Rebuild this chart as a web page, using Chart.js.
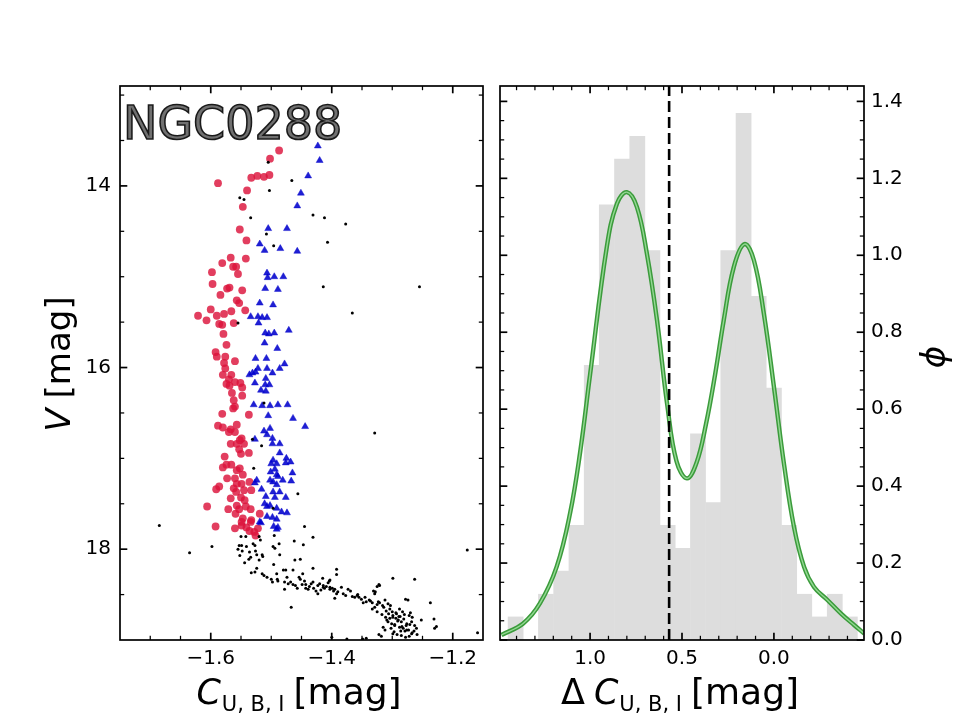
<!DOCTYPE html>
<html><head><meta charset="utf-8">
<script src="https://cdn.jsdelivr.net/npm/chart.js@4.4.1/dist/chart.umd.min.js"></script>
<style>
html,body{margin:0;padding:0;background:#fff;}
#wrap{position:relative;width:960px;height:720px;overflow:hidden;}
#c1{position:absolute;left:0;top:0;}
#c2{position:absolute;left:492px;top:0;}
</style></head><body>
<div id="wrap"><canvas id="c1" width="492" height="720"></canvas><canvas id="c2" width="468" height="720"></canvas></div>
<script>
// ---------------- DATA ----------------
const clusterName = "NGC0288";

// Left panel: C_UBI (x) vs V (y)
const redX = [-1.487,-1.502,-1.533,-1.523,-1.512,-1.503,-1.588,-1.540,-1.547,-1.552,-1.541,-1.567,-1.542,-1.581,-1.563,-1.558,-1.555,-1.598,-1.597,-1.573,-1.569,-1.548,
 -1.584,-1.557,-1.553,-1.600,-1.621,-1.607,-1.590,-1.578,-1.566,-1.543,-1.586,-1.581,-1.562,-1.579,-1.574,-1.592,-1.590,-1.576,-1.578,-1.560,-1.576,-1.580,-1.566,-1.570,-1.574,-1.569,-1.560,-1.551,-1.548,-1.565,-1.548,-1.562,-1.563,-1.560,-1.581,-1.537,
 -1.588,-1.580,-1.567,-1.560,-1.570,-1.557,-1.552,-1.549,-1.567,-1.557,-1.545,-1.553,-1.550,-1.537,-1.577,-1.580,-1.574,-1.566,-1.557,-1.552,-1.573,-1.560,-1.547,-1.557,-1.549,-1.536,-1.586,-1.591,-1.562,-1.558,-1.545,-1.533,-1.567,-1.550,-1.544,-1.606,-1.571,-1.557,-1.553,-1.542,-1.534,-1.559,-1.547,-1.533,-1.519,-1.592,-1.560,-1.549,-1.536,-1.522,-1.526,-1.549,-1.541,-1.534,-1.528];
const redY = [13.61,13.70,13.91,13.89,13.90,13.88,13.97,14.05,14.23,14.48,14.60,14.79,14.80,14.85,14.89,14.89,14.97,14.95,15.08,15.13,15.12,15.15,
 15.20,15.26,15.29,15.36,15.43,15.48,15.43,15.41,15.38,15.37,15.52,15.53,15.51,15.63,15.75,15.83,15.88,15.88,15.95,15.93,16.01,16.08,16.08,16.13,16.18,16.20,16.16,16.17,16.22,16.28,16.31,16.36,16.45,16.43,16.51,16.52,
 16.64,16.66,16.68,16.71,16.71,16.63,16.80,16.78,16.84,16.84,16.84,16.90,16.95,16.94,16.98,17.10,17.07,17.07,17.13,17.11,17.22,17.22,17.18,17.28,17.28,17.26,17.31,17.34,17.33,17.37,17.35,17.35,17.44,17.43,17.46,17.53,17.56,17.52,17.56,17.53,17.56,17.61,17.66,17.68,17.61,17.75,17.77,17.74,17.80,17.77,17.85,17.70,17.76,17.70,17.81];

const blueX = [-1.423,-1.420,-1.439,-1.451,-1.457,-1.505,-1.474,-1.519,-1.511,-1.485,-1.457,-1.507,-1.506,-1.495,-1.480,-1.510,-1.489,
 -1.519,-1.497,-1.534,-1.522,-1.515,-1.507,-1.521,-1.471,-1.510,-1.504,-1.495,-1.511,-1.490,-1.526,-1.508,-1.522,-1.507,-1.486,-1.478,-1.536,-1.531,-1.526,-1.498,-1.527,-1.509,-1.510,-1.503,-1.517,-1.509,-1.529,-1.515,-1.502,-1.489,-1.473,-1.505,-1.464,
 -1.444,-1.512,-1.502,-1.527,-1.507,-1.498,-1.498,-1.486,-1.486,-1.475,-1.468,-1.497,-1.500,-1.491,-1.476,-1.501,-1.494,-1.465,-1.491,-1.489,-1.524,-1.527,-1.502,-1.497,-1.481,-1.467,-1.491,-1.516,-1.497,-1.486,-1.509,-1.494,-1.476,-1.511,-1.502,-1.507,-1.491,-1.483,-1.474,-1.507,-1.498,-1.517,-1.491,-1.496,-1.489,-1.491,-1.519];
const blueY = [13.56,13.72,13.89,14.08,14.22,14.47,14.47,14.64,14.71,14.69,14.72,14.96,15.01,15.00,15.00,15.13,15.14,
 15.29,15.31,15.44,15.44,15.45,15.45,15.51,15.59,15.62,15.63,15.62,15.73,15.79,15.90,15.90,16.01,16.01,16.01,15.96,16.08,16.06,16.05,16.06,16.17,16.12,16.19,16.19,16.25,16.26,16.41,16.42,16.42,16.41,16.41,16.53,16.56,
 16.65,16.70,16.67,16.79,16.74,16.78,16.84,16.84,16.94,17.00,17.04,17.02,17.06,17.06,17.05,17.15,17.12,17.16,17.18,17.20,17.24,17.27,17.24,17.26,17.24,17.25,17.29,17.34,17.37,17.37,17.42,17.43,17.43,17.50,17.52,17.53,17.55,17.59,17.60,17.64,17.65,17.71,17.67,17.75,17.76,17.78,17.70];

const otherX = [-1.505,-1.466,-1.503,-1.552,-1.545,-1.534,-1.431,-1.412,-1.508,-1.496,-1.407,-1.414,-1.377,-1.255,-1.366,-1.329,-1.685,-1.635,-1.598,-1.176,-1.159,-1.555,-1.512,-1.531,-1.516,-1.529,-1.456,-1.497,-1.445,-1.550,-1.542,-1.520,-1.495,-1.431,
 -1.518,-1.553,-1.549,-1.541,-1.555,-1.548,-1.530,-1.527,-1.552,-1.536,-1.526,-1.524,-1.534,-1.537,-1.544,-1.515,-1.514,-1.520,-1.497,-1.494,-1.487,-1.486,-1.462,-1.447,-1.496,-1.533,-1.527,-1.524,-1.515,-1.512,-1.507,-1.500,-1.498,-1.491,-1.490,-1.489,-1.480,-1.476,-1.474,-1.478,-1.472,-1.461,-1.452,-1.464,-1.468,-1.464,-1.478,-1.460,-1.457,-1.454,-1.452,-1.448,-1.445,-1.443,-1.443,-1.439,-1.434,-1.431,-1.431,-1.430,-1.426,-1.423,-1.420,-1.415,-1.423,-1.414,-1.412,-1.409,-1.404,-1.403,-1.399,-1.395,-1.395,-1.392,-1.392,-1.467,
 -1.403,-1.414,-1.403,-1.397,-1.392,-1.390,-1.381,-1.377,-1.373,-1.369,-1.366,-1.362,-1.358,-1.355,-1.351,-1.345,-1.348,-1.343,-1.336,-1.333,-1.331,-1.329,-1.325,-1.322,-1.299,-1.263,-1.333,-1.329,-1.325,-1.321,-1.316,-1.314,-1.325,-1.323,-1.312,-1.307,-1.303,-1.310,-1.304,-1.300,-1.311,-1.304,-1.299,-1.294,-1.307,-1.301,-1.299,-1.293,-1.289,-1.288,-1.283,-1.290,-1.285,-1.281,-1.278,-1.274,-1.288,-1.282,-1.277,-1.276,-1.271,-1.268,-1.272,-1.267,-1.263,-1.260,-1.297,-1.292,-1.285,-1.278,-1.272,-1.267,-1.259,-1.252,-1.237,-1.231,-1.227,-1.230,-1.315,-1.312,-1.322,-1.318,-1.400,-1.375,-1.349,-1.343,-1.321,-1.328,-1.268,-1.276,-1.299,
 -1.296,-1.286,-1.280,-1.294,-1.302,-1.284,-1.273,-1.306,-1.291,-1.279,-1.264,-1.309,-1.296,-1.287,-1.270,-1.317,-1.338,-1.357,-1.384,-1.406,-1.418,-1.437,-1.449];
const otherY = [13.74,13.94,14.05,14.13,14.15,14.35,14.32,14.35,14.53,14.66,14.62,15.11,14.42,15.11,15.40,16.72,17.74,18.04,17.97,18.01,18.92,15.51,16.39,16.79,16.86,17.11,17.39,17.55,17.75,17.86,17.86,17.86,17.85,17.87,
 17.90,17.96,17.96,17.97,18.00,18.02,17.94,17.96,18.07,18.03,18.02,18.06,18.09,18.11,18.15,18.06,18.08,18.12,17.97,17.99,17.94,18.06,17.91,17.95,18.17,18.26,18.25,18.21,18.27,18.29,18.31,18.33,18.36,18.27,18.33,18.35,18.23,18.23,18.31,18.36,18.38,18.12,18.11,18.23,18.36,18.39,18.44,18.40,18.43,18.31,18.33,18.27,18.35,18.39,18.43,18.44,18.38,18.36,18.21,18.43,18.46,18.40,18.38,18.32,18.49,18.40,18.43,18.41,18.35,18.42,18.43,18.44,18.54,18.22,18.28,18.64,
 18.34,18.42,18.44,18.46,18.49,18.47,18.49,18.51,18.44,18.46,18.52,18.53,18.51,18.53,18.55,18.53,18.59,18.58,18.57,18.59,18.46,18.49,18.41,18.39,18.32,18.33,18.66,18.64,18.69,18.59,18.62,18.64,18.61,18.58,18.56,18.60,18.62,18.68,18.66,18.69,18.75,18.76,18.75,18.76,18.80,18.82,18.73,18.71,18.74,18.66,18.69,18.78,18.80,18.77,18.55,18.56,18.86,18.87,18.84,18.82,18.83,18.80,18.73,18.75,18.84,18.87,18.91,18.94,18.95,18.97,18.96,18.92,18.94,18.78,18.59,18.77,18.85,18.87,18.86,18.89,18.94,18.96,18.97,18.99,18.99,18.98,18.40,18.47,18.93,18.89,18.93,
 18.84,18.90,18.72,18.70,18.87,18.85,18.89,18.71,18.79,18.90,18.90,18.78,18.83,18.74,18.70,18.72,18.56,18.50,18.42,18.37,18.45,18.41,18.39];

// Left panel axes
const xTicksL = [-1.6, -1.4, -1.2];
const xMinorL = [-1.70, -1.65, -1.55, -1.50, -1.45, -1.35, -1.30, -1.25];
const yTicksL = [14, 16, 18];
const yMinorL = [13.0, 13.5, 14.5, 15.0, 15.5, 16.5, 17.0, 17.5, 18.5];

// Right panel: histogram of Delta C_UBI (bin centres and density)
const binCenters = [1.405,1.322,1.240,1.157,1.074,0.991,0.909,0.826,0.743,0.661,0.578,0.496,0.413,0.330,0.248,0.165,0.083,0.000,-0.083,-0.165,-0.248,-0.331,-0.413];
const binDensity = [0.060,0.000,0.119,0.179,0.298,0.714,1.131,1.250,1.309,1.012,0.298,0.238,0.536,0.357,1.012,1.369,0.893,0.655,0.298,0.119,0.060,0.119,0.060];

// Kernel density curve
const kdeX = [1.482,1.364,1.273,1.182,1.109,1.055,1.000,0.909,0.854,0.800,0.745,0.691,0.636,0.580,0.530,0.473,0.420,0.370,0.320,0.273,0.218,0.160,0.109,0.055,0.000,-0.054,-0.109,-0.164,-0.218,-0.291,-0.364,-0.436,-0.491];
const kdeY = [0.013,0.043,0.095,0.190,0.329,0.485,0.690,1.022,1.134,1.164,1.125,1.004,0.831,0.610,0.465,0.420,0.462,0.560,0.690,0.831,0.970,1.029,0.987,0.849,0.658,0.460,0.294,0.190,0.138,0.104,0.069,0.039,0.017];

const splitValue = 0.57;

const xTicksR = [1.0, 0.5, 0.0];
const xMinorR = [1.4,1.3,1.2,1.1,0.9,0.8,0.7,0.6,0.4,0.3,0.2,0.1,-0.1,-0.2,-0.3,-0.4];
const yTicksR = [0.0,0.2,0.4,0.6,0.8,1.0,1.2,1.4];
const yMinorR = [0.05,0.10,0.15,0.25,0.30,0.35,0.45,0.50,0.55,0.65,0.70,0.75,0.85,0.90,0.95,1.05,1.10,1.15,1.25,1.30,1.35];

// ---------------- RENDERING ----------------
const FONT = '"DejaVu Sans", "Liberation Sans", sans-serif';
const minus = v => (v < 0 ? '\u2212' : '') + Math.abs(v).toFixed(1);

function setTicks(list){ return s => { s.ticks = list.map(v => ({value: v})); }; }

function decor(xs, ys, xMaj, xMin, yMaj, yMin){
  return {
    id: 'decor',
    afterDatasetsDraw(chart){
      const {ctx, chartArea: a} = chart;
      const sx = chart.scales[xs], sy = chart.scales[ys];
      ctx.save();
      ctx.strokeStyle = '#000';
      const seg = (x1,y1,x2,y2) => { ctx.beginPath(); ctx.moveTo(x1,y1); ctx.lineTo(x2,y2); ctx.stroke(); };
      ctx.lineWidth = 1.7;
      xMaj.forEach(v => { const p = sx.getPixelForValue(v); seg(p,a.bottom,p,a.bottom-7.3); seg(p,a.top,p,a.top+7.3); });
      yMaj.forEach(v => { const p = sy.getPixelForValue(v); seg(a.left,p,a.left+7.3,p); seg(a.right,p,a.right-7.3,p); });
      ctx.lineWidth = 1.25;
      xMin.forEach(v => { const p = sx.getPixelForValue(v); seg(p,a.bottom,p,a.bottom-4.2); seg(p,a.top,p,a.top+4.2); });
      yMin.forEach(v => { const p = sy.getPixelForValue(v); seg(a.left,p,a.left+4.2,p); seg(a.right,p,a.right-4.2,p); });
      ctx.lineWidth = 1.7;
      ctx.strokeRect(a.left, a.top, a.right - a.left, a.bottom - a.top);
      ctx.restore();
    }
  };
}

function drawRuns(ctx, runs, x, y, rotate){
  ctx.save();
  ctx.translate(x, y);
  if (rotate) ctx.rotate(-Math.PI/2);
  ctx.textBaseline = 'alphabetic';
  ctx.textAlign = 'left';
  ctx.fillStyle = '#000';
  let total = 0;
  runs.forEach(r => { ctx.font = (r.style||'') + ' ' + r.size + 'px ' + FONT; r.w = ctx.measureText(r.t).width; total += r.w + (r.gap||0); });
  let cx = -total/2;
  runs.forEach(r => { ctx.font = (r.style||'') + ' ' + r.size + 'px ' + FONT; ctx.fillText(r.t, cx, r.dy||0); cx += r.w + (r.gap||0); });
  ctx.restore();
}

const titleL = {
  id: 'titlesL',
  afterDraw(chart){
    const ctx = chart.ctx, a = chart.chartArea;
    ctx.save();
    ctx.font = '46px ' + FONT;
    ctx.textBaseline = 'alphabetic';
    ctx.fillStyle = '#707070';
    ctx.strokeStyle = '#1a1a1a';
    ctx.lineWidth = 1.6;
    ctx.fillText(clusterName, a.left + 3, a.top + 53);
    ctx.strokeText(clusterName, a.left + 3, a.top + 53);
    ctx.restore();
    drawRuns(ctx, [{t:'C', size:35, style:'italic', gap:1},{t:'U, B, I', size:21, dy:7, gap:9},{t:'[mag]', size:36}], 299, 704, false);
    drawRuns(ctx, [{t:'V', size:34, style:'italic', gap:10},{t:'[mag]', size:34}], 70, 364, true);
  }
};

const titleR = {
  id: 'titlesR',
  afterDraw(chart){
    const ctx = chart.ctx;
    drawRuns(ctx, [{t:'\u0394', size:35, gap:9},{t:'C', size:35, style:'italic', gap:1},{t:'U, B, I', size:21, dy:7, gap:9},{t:'[mag]', size:36}], 188, 704, false);
    drawRuns(ctx, [{t:'\u03D5', size:34, style:'italic'}], 453, 357, true);
  }
};

const tickFont = {family: FONT, size: 20};

new Chart(document.getElementById('c1'), {
  type: 'scatter',
  data: { datasets: [
    { label: 'other', data: otherX.map((x,i) => ({x, y: otherY[i]})), pointRadius: 1.5, backgroundColor: '#000', borderWidth: 0, pointStyle: 'circle' },
    { label: 'blue', data: blueX.map((x,i) => ({x, y: blueY[i]})), pointRadius: 4, pointStyle: 'triangle', backgroundColor: 'rgba(0,0,205,0.88)', borderColor: 'rgba(0,0,205,0.88)', borderWidth: 0.5 },
    { label: 'red', data: redX.map((x,i) => ({x, y: redY[i]})), pointRadius: 3.9, pointStyle: 'circle', backgroundColor: 'rgba(220,20,60,0.82)', borderWidth: 0 }
  ]},
  options: {
    responsive: false, animation: false, events: [],
    layout: { padding: { top: 86, right: 9, left: 0, bottom: 0 } },
    plugins: { legend: { display: false }, tooltip: { enabled: false } },
    scales: {
      x: { type: 'linear', min: -1.75, max: -1.15,
        grid: { display: false, drawTicks: false }, border: { display: false },
        afterBuildTicks: setTicks(xTicksL),
        ticks: { callback: v => minus(v), font: tickFont, color: '#000', padding: 7, maxRotation: 0, autoSkip: false },
        afterFit: s => { s.height = 80; } },
      y: { type: 'linear', reverse: true, min: 12.9, max: 19.0,
        grid: { display: false, drawTicks: false }, border: { display: false },
        afterBuildTicks: setTicks(yTicksL),
        ticks: { callback: v => String(v), font: tickFont, color: '#000', padding: 9, autoSkip: false },
        afterFit: s => { s.width = 120; } }
    }
  },
  plugins: [decor('x','y', xTicksL, xMinorL, yTicksL, yMinorL), titleL]
});

new Chart(document.getElementById('c2'), {
  type: 'bar',
  data: { datasets: [
    { type: 'line', label: 'split', data: [{x: splitValue, y: 0}, {x: splitValue, y: 1.44}], borderColor: '#000', borderWidth: 2.6, borderDash: [11, 5], pointRadius: 0, yAxisID: 'y' },
    { type: 'line', label: 'kde-inner', data: kdeX.map((x,i) => ({x, y: kdeY[i]})), borderColor: '#93d893', borderWidth: 1.4, pointRadius: 0, tension: 0.4, yAxisID: 'y' },
    { type: 'line', label: 'kde', data: kdeX.map((x,i) => ({x, y: kdeY[i]})), borderColor: '#3b9b3b', borderWidth: 4.4, pointRadius: 0, tension: 0.4, yAxisID: 'y' },
    { type: 'bar', label: 'hist', data: binCenters.map((x,i) => ({x, y: binDensity[i]})), backgroundColor: '#dddddd', borderWidth: 0, barPercentage: 1, categoryPercentage: 1, yAxisID: 'y' }
  ]},
  options: {
    responsive: false, animation: false, events: [],
    layout: { padding: { top: 86, right: 0, left: 0, bottom: 0 } },
    plugins: { legend: { display: false }, tooltip: { enabled: false } },
    scales: {
      x: { type: 'linear', reverse: true, min: -0.49, max: 1.49, offset: false,
        grid: { display: false, drawTicks: false }, border: { display: false },
        afterBuildTicks: setTicks(xTicksR),
        ticks: { callback: v => minus(v), font: tickFont, color: '#000', padding: 7, maxRotation: 0, autoSkip: false },
        afterFit: s => { s.height = 80; } },
      y: { type: 'linear', position: 'left', min: 0, max: 1.44,
        grid: { display: false, drawTicks: false }, border: { display: false },
        ticks: { display: false },
        afterFit: s => { s.width = 8; } },
      y1: { type: 'linear', position: 'right', min: 0, max: 1.44,
        grid: { display: false, drawTicks: false }, border: { display: false },
        afterBuildTicks: setTicks(yTicksR),
        ticks: { callback: v => v.toFixed(1), font: tickFont, color: '#000', padding: 7, autoSkip: false },
        afterFit: s => { s.width = 96; } }
    }
  },
  plugins: [decor('x','y', xTicksR, xMinorR, yTicksR, yMinorR), titleR]
});
</script>
</body></html>
